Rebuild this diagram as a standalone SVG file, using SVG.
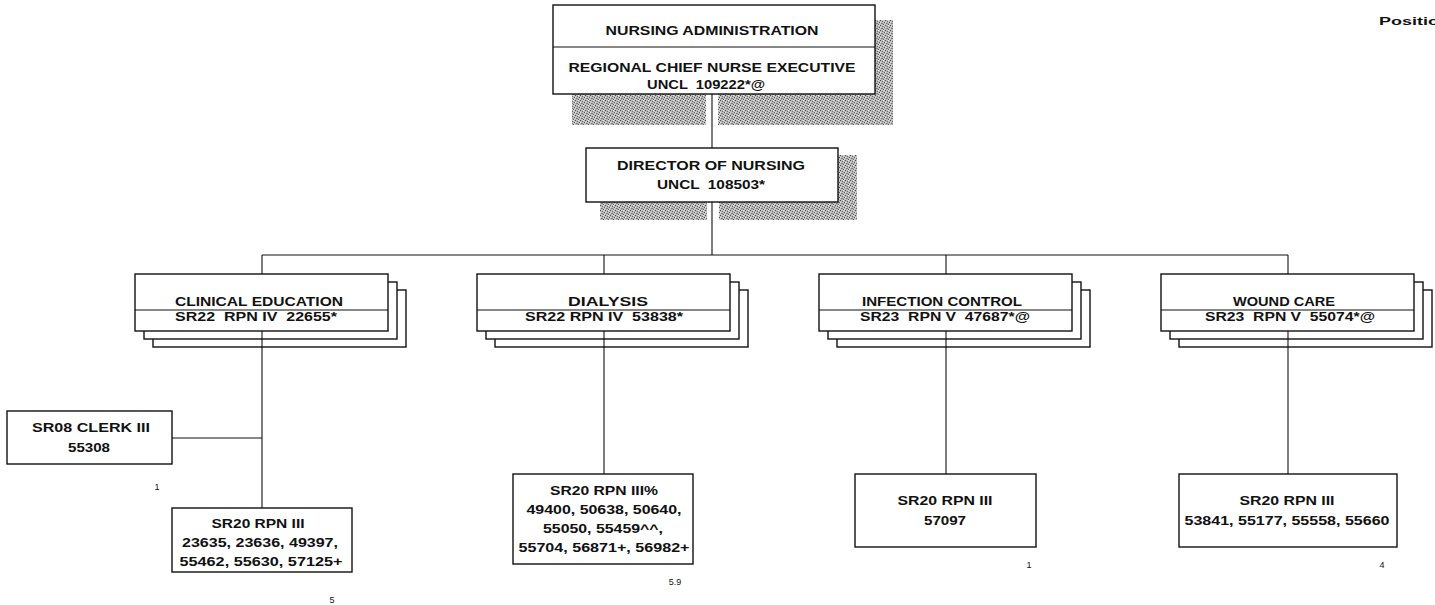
<svg xmlns="http://www.w3.org/2000/svg" width="1435" height="605" viewBox="0 0 1435 605">
<defs>
<pattern id="shade" width="5" height="5" patternUnits="userSpaceOnUse">
<rect width="5" height="5" fill="#bdbdbd"/>
<rect x="0" y="0" width="1" height="1" fill="#4a4a4a"/>
<rect x="2" y="1" width="1" height="1" fill="#6a6a6a"/>
<rect x="4" y="2" width="1" height="1" fill="#555"/>
<rect x="1" y="3" width="1" height="1" fill="#777"/>
<rect x="3" y="4" width="1" height="1" fill="#5a5a5a"/>
<rect x="3" y="0" width="1" height="1" fill="#e8e8e8"/>
<rect x="0" y="2" width="1" height="1" fill="#e0e0e0"/>
<rect x="2" y="3" width="1" height="1" fill="#8a8a8a"/>
<rect x="4" y="4" width="1" height="1" fill="#d8d8d8"/>
</pattern>
<style>
.box{fill:#fff;stroke:#111;stroke-width:1.4}
.div{stroke:#111;stroke-width:1.2}
.shadow{fill:url(#shade)}
text{white-space:pre}
.t{font-family:"Liberation Sans",Arial,sans-serif;font-weight:bold;font-size:13px;fill:#111;text-anchor:middle}
.n{font-family:"Liberation Sans",Arial,sans-serif;font-size:9px;fill:#111;text-anchor:middle}
.p{font-family:"Liberation Sans",Arial,sans-serif;font-weight:bold;font-size:11px;fill:#111}
.c{stroke:#111;stroke-width:1.1;fill:none}
</style>
</defs>
<rect width="1435" height="605" fill="#fff"/>

<text class="p" x="1379" y="25" textLength="60" lengthAdjust="spacingAndGlyphs">Positio</text>

<g id="nursing-administration">
<rect class="shadow" x="572" y="20" width="321" height="105"/>
<rect x="706" y="94" width="12" height="32" fill="#fff"/>
<rect class="box" x="553" y="5" width="322" height="89"/>
<line class="div" x1="553" y1="47" x2="875" y2="47"/>
<text class="t" x="712" y="35" textLength="213" lengthAdjust="spacingAndGlyphs">NURSING ADMINISTRATION</text>
<text class="t" x="712" y="72" textLength="287" lengthAdjust="spacingAndGlyphs">REGIONAL CHIEF NURSE EXECUTIVE</text>
<text class="t" x="706" y="89" textLength="118" lengthAdjust="spacingAndGlyphs">UNCL  109222*@</text>
</g>

<g id="director-of-nursing">
<rect class="shadow" x="600" y="155" width="257" height="65"/>
<rect x="707" y="202" width="12" height="19" fill="#fff"/>
<rect class="box" x="586" y="148" width="252" height="54"/>
<text class="t" x="711" y="170" textLength="188" lengthAdjust="spacingAndGlyphs">DIRECTOR OF NURSING</text>
<text class="t" x="711" y="189" textLength="108" lengthAdjust="spacingAndGlyphs">UNCL  108503*</text>
</g>

<g id="clinical-education">
<rect class="box" x="153" y="290" width="253" height="57"/>
<rect class="box" x="144" y="282" width="253" height="57"/>
<rect class="box" x="135" y="274" width="253" height="57"/>
<line class="div" x1="135" y1="310" x2="388" y2="310"/>
<text class="t" x="259" y="306" textLength="168" lengthAdjust="spacingAndGlyphs">CLINICAL EDUCATION</text>
<text class="t" x="256" y="321" textLength="162" lengthAdjust="spacingAndGlyphs">SR22  RPN IV  22655*</text>
</g>

<g id="dialysis">
<rect class="box" x="495" y="290" width="253" height="57"/>
<rect class="box" x="486" y="282" width="253" height="57"/>
<rect class="box" x="477" y="274" width="253" height="57"/>
<line class="div" x1="477" y1="310" x2="730" y2="310"/>
<text class="t" x="608" y="306" textLength="80" lengthAdjust="spacingAndGlyphs">DIALYSIS</text>
<text class="t" x="604" y="321" textLength="158" lengthAdjust="spacingAndGlyphs">SR22 RPN IV  53838*</text>
</g>

<g id="infection-control">
<rect class="box" x="837" y="290" width="253" height="57"/>
<rect class="box" x="828" y="282" width="253" height="57"/>
<rect class="box" x="819" y="274" width="253" height="57"/>
<line class="div" x1="819" y1="310" x2="1072" y2="310"/>
<text class="t" x="942" y="306" textLength="160" lengthAdjust="spacingAndGlyphs">INFECTION CONTROL</text>
<text class="t" x="945" y="321" textLength="170" lengthAdjust="spacingAndGlyphs">SR23  RPN V  47687*@</text>
</g>

<g id="wound-care">
<rect class="box" x="1179" y="290" width="253" height="57"/>
<rect class="box" x="1170" y="282" width="253" height="57"/>
<rect class="box" x="1161" y="274" width="253" height="57"/>
<line class="div" x1="1161" y1="310" x2="1414" y2="310"/>
<text class="t" x="1284" y="306" textLength="102" lengthAdjust="spacingAndGlyphs">WOUND CARE</text>
<text class="t" x="1290" y="321" textLength="170" lengthAdjust="spacingAndGlyphs">SR23  RPN V  55074*@</text>
</g>

<g id="clerk">
<rect class="box" x="7" y="411" width="165" height="53"/>
<text class="t" x="91" y="432" textLength="118" lengthAdjust="spacingAndGlyphs">SR08 CLERK III</text>
<text class="t" x="89" y="452" textLength="42" lengthAdjust="spacingAndGlyphs">55308</text>
<text class="n" x="157" y="490">1</text>
</g>

<g id="clinical-rpn">
<rect class="box" x="172" y="508" width="180" height="64"/>
<text class="t" x="258" y="528" textLength="93" lengthAdjust="spacingAndGlyphs">SR20 RPN III</text>
<text class="t" x="260" y="547" textLength="156" lengthAdjust="spacingAndGlyphs">23635, 23636, 49397,</text>
<text class="t" x="261" y="566" textLength="163" lengthAdjust="spacingAndGlyphs">55462, 55630, 57125+</text>
<text class="n" x="332" y="603">5</text>
</g>

<g id="dialysis-rpn">
<rect class="box" x="513" y="474" width="180" height="90"/>
<text class="t" x="604" y="495" textLength="108" lengthAdjust="spacingAndGlyphs">SR20 RPN III%</text>
<text class="t" x="604" y="514" textLength="155" lengthAdjust="spacingAndGlyphs">49400, 50638, 50640,</text>
<text class="t" x="603" y="533" textLength="120" lengthAdjust="spacingAndGlyphs">55050, 55459^^,</text>
<text class="t" x="604" y="552" textLength="171" lengthAdjust="spacingAndGlyphs">55704, 56871+, 56982+</text>
<text class="n" x="675" y="585">5.9</text>
</g>

<g id="infection-rpn">
<rect class="box" x="855" y="474" width="181" height="73"/>
<text class="t" x="945" y="505" textLength="95" lengthAdjust="spacingAndGlyphs">SR20 RPN III</text>
<text class="t" x="945" y="525" textLength="42" lengthAdjust="spacingAndGlyphs">57097</text>
<text class="n" x="1029" y="568">1</text>
</g>

<g id="wound-rpn">
<rect class="box" x="1179" y="474" width="218" height="73"/>
<text class="t" x="1287" y="505" textLength="95" lengthAdjust="spacingAndGlyphs">SR20 RPN III</text>
<text class="t" x="1287" y="525" textLength="205" lengthAdjust="spacingAndGlyphs">53841, 55177, 55558, 55660</text>
<text class="n" x="1382" y="568">4</text>
</g>

<g id="connectors">
<line class="c" x1="712" y1="94" x2="712" y2="148"/>
<line class="c" x1="712" y1="202" x2="712" y2="255"/>
<line class="c" x1="262" y1="255" x2="1288" y2="255"/>
<line class="c" x1="262" y1="255" x2="262" y2="274"/>
<line class="c" x1="604" y1="255" x2="604" y2="274"/>
<line class="c" x1="946" y1="255" x2="946" y2="274"/>
<line class="c" x1="1288" y1="255" x2="1288" y2="274"/>
<line class="c" x1="262" y1="331" x2="262" y2="508"/>
<line class="c" x1="172" y1="438" x2="262" y2="438"/>
<line class="c" x1="604" y1="331" x2="604" y2="474"/>
<line class="c" x1="946" y1="331" x2="946" y2="474"/>
<line class="c" x1="1288" y1="331" x2="1288" y2="474"/>
</g>
</svg>
